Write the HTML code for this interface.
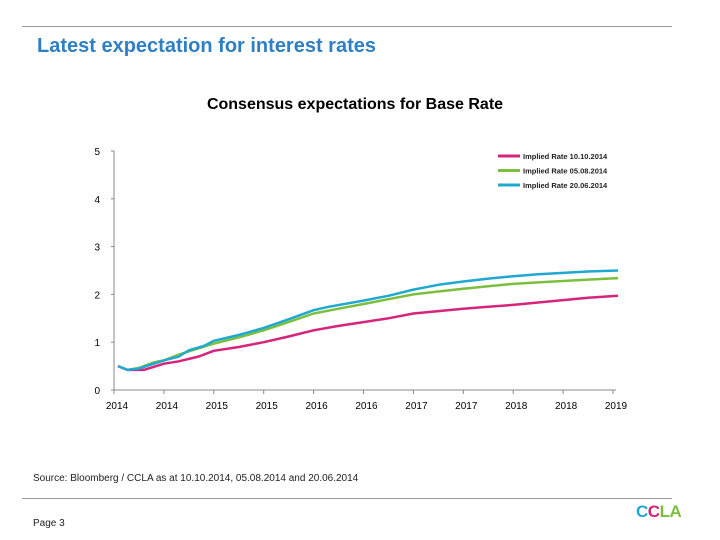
<!DOCTYPE html>
<html><head><meta charset="utf-8"><style>
body{margin:0;width:720px;height:540px;background:#fff;font-family:"Liberation Sans",Arial,sans-serif;position:relative;overflow:hidden}
.abs{position:absolute}
</style></head><body>
<div class="abs" style="left:22px;top:26px;width:650px;height:1px;background:#999"></div>
<div class="abs" style="left:37px;top:35px;font-size:20px;font-weight:bold;color:#2e7fc4">Latest expectation for interest rates</div>
<div class="abs" style="left:0;width:710px;text-align:center;top:96px;font-size:16px;font-weight:bold;color:#000">Consensus expectations for Base Rate</div>
<svg class="abs" style="left:0;top:0" width="720" height="540" id="chart"></svg>
<div class="abs" style="left:33px;top:473px;font-size:10px;color:#222">Source: Bloomberg / CCLA as at 10.10.2014, 05.08.2014 and 20.06.2014</div>
<div class="abs" style="left:22px;top:498px;width:650px;height:1px;background:#999"></div>
<div class="abs" style="left:33px;top:518px;font-size:10px;color:#222">Page 3</div>
<div class="abs" style="left:636px;top:502px;font-size:17px;font-weight:bold;letter-spacing:-0.5px"><span style="color:#1fa8d0">C</span><span style="color:#d6247a">C</span><span style="color:#7cbf3f">LA</span></div>
<script>
const xTickLabels=["2014","2014","2015","2015","2016","2016","2017","2017","2018","2018","2019"];
const yTicks=[0,1,2,3,4,5];
const seriesNames=["Implied Rate 10.10.2014","Implied Rate 05.08.2014","Implied Rate 20.06.2014"];
const seriesColors=["#d6247a","#7cbf3f","#1fa8d0"];
const pinkT=[0.08,0.27,0.6,1.0,1.3,1.7,2.0,2.5,3.0,3.5,4.0,4.5,5.0,5.5,6.0,6.5,7.0,7.5,8.0,8.5,9.0,9.5,10.1];
const pinkV=[0.5,0.42,0.42,0.55,0.6,0.7,0.82,0.9,1.0,1.12,1.25,1.34,1.42,1.5,1.6,1.65,1.7,1.74,1.78,1.83,1.88,1.93,1.97];
const greenT=[0.08,0.27,0.5,0.8,1.0,1.3,1.6,2.0,2.5,3.0,3.5,4.0,4.5,5.0,5.5,6.0,6.5,7.0,7.5,8.0,8.5,9.0,9.5,10.1];
const greenV=[0.5,0.42,0.46,0.58,0.62,0.74,0.84,0.97,1.1,1.25,1.42,1.6,1.7,1.8,1.9,2.0,2.06,2.12,2.17,2.22,2.25,2.28,2.31,2.34];
const cyanT=[0.08,0.27,0.5,0.8,1.0,1.3,1.5,1.8,2.0,2.5,3.0,3.5,4.0,4.3,5.0,5.5,6.0,6.5,7.0,7.5,8.0,8.5,9.0,9.5,10.1];
const cyanV=[0.5,0.42,0.45,0.55,0.62,0.7,0.83,0.92,1.03,1.15,1.3,1.48,1.67,1.74,1.87,1.97,2.1,2.2,2.27,2.33,2.38,2.42,2.45,2.48,2.5];
const X0=114,X1=613,Y0=390,Y5=151;
const xs=t=>X0+(X1-X0)*t/10, ys=v=>Y0-(Y0-Y5)*v/5;
const svg=document.getElementById('chart');const NS="http://www.w3.org/2000/svg";
function mk(tag,attrs,txt){const e=document.createElementNS(NS,tag);for(const k in attrs)e.setAttribute(k,attrs[k]);if(txt!==undefined)e.textContent=txt;svg.appendChild(e);return e;}
let a=mk('line',{x1:X0,y1:Y5,x2:X0,y2:Y0,stroke:'#888','stroke-width':1});


a=mk('line',{x1:X0,y1:Y0,x2:X1+3,y2:Y0,stroke:'#888','stroke-width':1});


yTicks.forEach(v=>{const t=mk('text',{x:X0-14,y:ys(v)+4,'font-size':10,'text-anchor':'end',fill:'#000'},String(v));


const l=mk('line',{x1:X0-3,y1:ys(v),x2:X0,y2:ys(v),stroke:'#888'});

});
xTickLabels.forEach((s,i)=>{const t=mk('text',{x:xs(i)+3,y:Y0+19,'font-size':10,'text-anchor':'middle',fill:'#000'},s);


const l=mk('line',{x1:xs(i),y1:Y0,x2:xs(i),y2:Y0+4,stroke:'#888'});

});
const data=[[pinkT,pinkV],[greenT,greenV],[cyanT,cyanV]];
const names=['series-10-10-2014','series-05-08-2014','series-20-06-2014'];
[1,0,2].forEach(i=>{const [T,V]=data[i];const d=T.map((t,j)=>(j?'L':'M')+xs(t).toFixed(1)+','+ys(V[j]).toFixed(1)).join('');
const p=mk('path',{d:d,fill:'none',stroke:seriesColors[i],'stroke-width':2.5,'stroke-linejoin':'round'});

});
seriesNames.forEach((n,i)=>{const y=156+i*14.5;
const l=mk('line',{x1:498,y1:y,x2:520,y2:y,stroke:seriesColors[i],'stroke-width':3});


const t=mk('text',{x:523,y:y+3,'font-size':7.5,'font-weight':'bold',fill:'#222'},n);

});
</script>
</body></html>
